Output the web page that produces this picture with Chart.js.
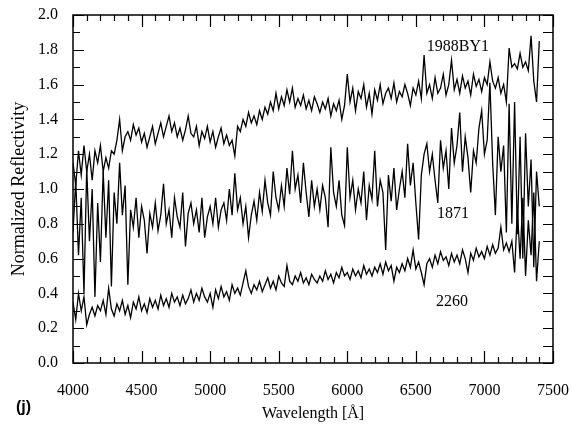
<!DOCTYPE html>
<html><head><meta charset="utf-8">
<script src="https://cdn.jsdelivr.net/npm/chart.js@4.4.0/dist/chart.umd.min.js"></script>
<style>html,body{margin:0;padding:0;background:#fff;}#wrap{width:572px;height:428px;}</style>
</head><body><div id="wrap"><canvas id="c" width="572" height="428"></canvas></div>
<script>
const wavelengths = [
4000,4020,4040,4060,4080,4100,4120,4140,4160,4180,
4200,4220,4240,4260,4280,4300,4320,4340,4360,4380,
4400,4420,4440,4460,4480,4500,4520,4540,4560,4580,
4600,4620,4640,4660,4680,4700,4720,4740,4760,4780,
4800,4820,4840,4860,4880,4900,4920,4940,4960,4980,
5000,5020,5040,5060,5080,5100,5120,5140,5160,5180,
5200,5220,5240,5260,5280,5300,5320,5340,5360,5380,
5400,5420,5440,5460,5480,5500,5520,5540,5560,5580,
5600,5620,5640,5660,5680,5700,5720,5740,5760,5780,
5800,5820,5840,5860,5880,5900,5920,5940,5960,5980,
6000,6020,6040,6060,6080,6100,6120,6140,6160,6180,
6200,6220,6240,6260,6280,6300,6320,6340,6360,6380,
6400,6420,6440,6460,6480,6500,6520,6540,6560,6580,
6600,6620,6640,6660,6680,6700,6720,6740,6760,6780,
6800,6820,6840,6860,6880,6900,6920,6940,6960,6980,
7000,7020,7040,7060,7080,7100,7120,7140,7160,7180,
7200,7220,7240,7260,7280,7300,7320,7340,7360,7380,
7400];
const refl1988BY1 = [
1.15,1.02,1.22,1.08,1.25,1.10,1.20,1.05,1.22,1.15,
1.25,1.10,1.18,1.12,1.22,1.20,1.28,1.40,1.22,1.30,
1.33,1.28,1.37,1.31,1.35,1.27,1.32,1.24,1.30,1.36,
1.26,1.32,1.38,1.30,1.36,1.42,1.33,1.38,1.30,1.35,
1.28,1.34,1.42,1.32,1.30,1.36,1.25,1.33,1.29,1.36,
1.27,1.33,1.24,1.30,1.35,1.26,1.31,1.25,1.28,1.19,
1.36,1.33,1.40,1.36,1.44,1.38,1.42,1.37,1.45,1.40,
1.47,1.43,1.50,1.45,1.55,1.46,1.53,1.48,1.57,1.50,
1.58,1.47,1.52,1.48,1.54,1.46,1.51,1.45,1.53,1.49,
1.44,1.50,1.46,1.52,1.42,1.49,1.45,1.51,1.40,1.48,
1.66,1.50,1.58,1.45,1.56,1.52,1.60,1.47,1.55,1.43,
1.57,1.51,1.60,1.49,1.55,1.58,1.52,1.61,1.50,1.56,
1.53,1.60,1.55,1.48,1.58,1.54,1.62,1.52,1.77,1.55,
1.60,1.52,1.64,1.55,1.58,1.66,1.54,1.60,1.74,1.57,
1.63,1.55,1.65,1.58,1.62,1.54,1.66,1.59,1.63,1.56,
1.64,1.60,1.73,1.62,1.58,1.64,1.55,1.60,1.50,1.81,
1.70,1.72,1.69,1.78,1.70,1.73,1.68,1.88,1.62,1.50,
1.85];
const refl1871 = [
0.75,1.05,0.62,0.95,0.40,1.12,0.70,1.00,0.38,0.92,
0.58,1.10,0.72,1.05,0.44,0.98,0.80,1.15,0.85,1.02,
0.45,0.88,0.78,0.95,0.72,0.90,0.82,0.63,0.86,0.78,
0.92,0.76,0.85,1.03,0.80,0.88,0.72,0.95,0.84,0.78,
0.98,0.67,0.86,0.92,0.80,0.88,0.75,0.95,0.72,0.84,
0.90,0.80,0.95,0.78,0.88,0.92,0.82,1.00,0.85,1.09,
0.88,0.95,0.80,0.90,0.72,0.85,0.93,0.82,0.98,0.87,
1.05,0.92,0.85,1.10,0.95,0.88,1.02,0.90,1.12,0.97,
1.22,1.00,1.08,0.92,1.15,0.98,0.84,1.05,0.90,1.00,
0.88,1.02,0.95,0.78,1.24,0.98,0.90,1.05,0.85,0.79,
1.24,0.95,1.05,0.88,1.00,0.92,1.10,0.82,1.02,0.94,
1.22,0.90,1.05,0.98,0.65,1.08,0.93,1.12,0.88,1.00,
1.10,0.95,1.26,1.02,1.15,0.92,0.71,1.08,1.20,1.26,
1.10,1.20,1.05,0.92,1.28,1.12,1.22,1.00,1.35,1.15,
1.25,1.44,1.10,1.30,1.18,0.98,1.22,1.15,1.35,1.45,
1.20,1.28,1.61,1.15,0.85,1.30,1.10,1.25,0.75,1.49,
0.80,1.50,0.74,1.30,0.60,1.32,0.90,1.17,0.55,1.10,
0.90];
const refl2260 = [
0.35,0.25,0.40,0.30,0.38,0.22,0.28,0.32,0.27,0.33,
0.30,0.36,0.28,0.43,0.31,0.27,0.34,0.30,0.36,0.28,
0.33,0.26,0.35,0.31,0.38,0.30,0.34,0.29,0.37,0.32,
0.36,0.31,0.39,0.33,0.37,0.32,0.40,0.35,0.38,0.33,
0.39,0.34,0.37,0.42,0.35,0.40,0.36,0.43,0.38,0.35,
0.40,0.32,0.42,0.37,0.44,0.38,0.41,0.36,0.45,0.40,
0.43,0.39,0.46,0.53,0.44,0.40,0.45,0.42,0.47,0.41,
0.45,0.49,0.43,0.47,0.42,0.50,0.46,0.44,0.56,0.47,
0.45,0.50,0.47,0.52,0.46,0.49,0.45,0.51,0.48,0.46,
0.50,0.47,0.53,0.48,0.51,0.46,0.52,0.49,0.55,0.50,
0.52,0.48,0.54,0.50,0.53,0.49,0.56,0.51,0.54,0.50,
0.55,0.52,0.57,0.51,0.58,0.53,0.56,0.47,0.55,0.52,
0.57,0.53,0.60,0.55,0.65,0.54,0.58,0.52,0.45,0.57,
0.60,0.55,0.62,0.57,0.64,0.59,0.61,0.56,0.63,0.58,
0.62,0.57,0.65,0.60,0.52,0.63,0.59,0.66,0.61,0.64,
0.60,0.67,0.62,0.68,0.63,0.66,0.78,0.65,0.69,0.64,
0.70,0.52,0.88,0.60,0.95,0.50,0.82,0.62,0.98,0.47,
0.70];
const seriesNames = ['1988BY1','1871','2260'];
const xTickValues = [4000,4500,5000,5500,6000,6500,7000,7500];
const yTickValues = [0.0,0.2,0.4,0.6,0.8,1.0,1.2,1.4,1.6,1.8,2.0];

const serif = "'Liberation Serif','Times New Roman',serif";

function pts(vals){ return wavelengths.map((w,i)=>({x:w,y:vals[i]})); }

const framePlugin = {
  id:'frame',
  afterDatasetsDraw(chart){
    const {ctx, chartArea:a, scales:{x,y}} = chart;
    ctx.save();
    ctx.strokeStyle='#000';
    ctx.lineWidth=1.5;
    ctx.strokeRect(a.left, a.top, a.right-a.left, a.bottom-a.top);
    ctx.lineWidth=1.2;
    ctx.beginPath();
    for(let v=4000; v<=7500; v+=100){
      const px = Math.round(x.getPixelForValue(v))+0.5;
      const L = (v%500===0)?12:6;
      ctx.moveTo(px,a.bottom); ctx.lineTo(px,a.bottom-L);
      ctx.moveTo(px,a.top); ctx.lineTo(px,a.top+L);
    }
    for(let k=0;k<=20;k++){
      const v = k/10;
      const py = Math.round(y.getPixelForValue(v))+0.5;
      const L = (k%2===0)?11:7;
      ctx.moveTo(a.left,py); ctx.lineTo(a.left+L,py);
      ctx.moveTo(a.right,py); ctx.lineTo(a.right-10,py);
    }
    ctx.stroke();
    ctx.fillStyle='#000';
    ctx.font="16px "+serif;
    ctx.textAlign='center';
    ctx.textBaseline='middle';
    const pos = [[6807,1.82],[6771,0.856],[6764,0.35]];
    seriesNames.forEach((n,i)=>{
      ctx.fillText(n, x.getPixelForValue(pos[i][0]), y.getPixelForValue(pos[i][1]));
    });
    ctx.font="bold 16px 'Liberation Sans',Arial,sans-serif";
    ctx.textAlign='left';
    ctx.fillText('(j)', 16, 408);
    ctx.restore();
  }
};

const ds = (label, vals) => ({label, data:pts(vals), borderColor:'#000', borderWidth:1.3,
  pointRadius:0, tension:0, fill:false});

new Chart(document.getElementById('c'), {
  type:'line',
  data:{datasets:[ds(seriesNames[0],refl1988BY1), ds(seriesNames[1],refl1871), ds(seriesNames[2],refl2260)]},
  options:{
    responsive:false, animation:false, devicePixelRatio:1,
    layout:{padding:{left:0,right:19,top:15,bottom:0}},
    plugins:{legend:{display:false}, tooltip:{enabled:false}},
    scales:{
      x:{type:'linear', min:4000, max:7500,
        afterBuildTicks(s){ s.ticks = xTickValues.map(v=>({value:v})); },
        afterFit(s){ s.height = 65; s.paddingLeft = 0; s.paddingRight = 0; },
        grid:{display:false, drawTicks:false}, border:{display:false},
        ticks:{color:'#000', font:{family:serif, size:16}, padding:18, maxRotation:0, callback:v=>String(v)},
        title:{display:true, text:'Wavelength [Å]', color:'#000', font:{family:serif, size:16}, padding:{top:0,bottom:5}}
      },
      y:{type:'linear', min:0, max:2,
        afterBuildTicks(s){ s.ticks = yTickValues.map(v=>({value:v})); },
        afterFit(s){ s.width = 73; s.paddingTop = 0; s.paddingBottom = 0; },
        grid:{display:false, drawTicks:false}, border:{display:false},
        ticks:{color:'#000', font:{family:serif, size:16}, padding:15, callback:v=>Number(v).toFixed(1)},
        title:{display:true, text:'Normalized Reflectivity', color:'#000', font:{family:serif, size:18}, padding:{top:8,bottom:0}}
      }
    }
  },
  plugins:[framePlugin]
});
</script></body></html>
